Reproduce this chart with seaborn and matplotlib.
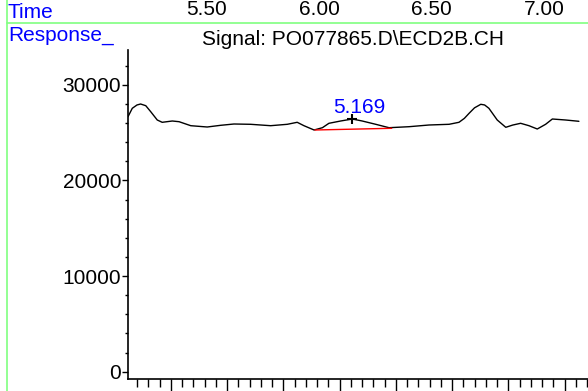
import matplotlib
matplotlib.use("Agg")
import matplotlib.pyplot as plt
import matplotlib.transforms as mtransforms
from matplotlib.ticker import MultipleLocator, NullFormatter
import seaborn as sns
import pandas as pd

# ---- data ----
time_min = [5.060, 5.079, 5.100, 5.116, 5.139, 5.161, 5.190, 5.212, 5.257, 5.287,
            5.339, 5.412, 5.472, 5.531, 5.605, 5.694, 5.768, 5.812, 5.842, 5.887,
            5.924, 5.953, 6.005, 6.057, 6.101, 6.161, 6.220, 6.309, 6.398, 6.487,
            6.531, 6.555, 6.576, 6.600, 6.628, 6.645, 6.664, 6.701, 6.739, 6.770,
            6.805, 6.842, 6.879, 6.916, 6.946, 7.005, 7.064]
response = [26673, 27552, 27900, 28001, 27824, 27196, 26328, 26087, 26223, 26150,
            25732, 25596, 25773, 25909, 25878, 25732, 25878, 26087, 25732, 25282,
            25522, 25983, 26223, 26432, 26223, 25878, 25522, 25627, 25805, 25878,
            26087, 26500, 27029, 27600, 27970, 27900, 27552, 26328, 25564, 25800,
            25983, 25732, 25386, 25878, 26432, 26328, 26192]

baseline_t = [5.891, 6.232]
baseline_y = [25282, 25460]

peak_t = 6.057
peak_y = 26432
peak_label = "5.169"

time_labels = [5.50, 6.00, 6.50, 7.00]
title = "Signal: PO077865.D\\ECD2B.CH"

df = pd.DataFrame({"time": time_min, "response": response})

sns.set_style("ticks")
plt.rcParams["font.family"] = ["Liberation Sans", "DejaVu Sans"]

W, H = 588, 391
fig = plt.figure(figsize=(W / 100, H / 100), dpi=100)
ax = fig.add_axes([128 / W, (H - 379) / H, (W - 128) / W, (379 - 50) / H])

sns.lineplot(data=df, x="time", y="response", ax=ax, color="black",
             linewidth=1.0)
ax.plot(baseline_t, baseline_y, color="red", linewidth=1.0)
ax.plot([peak_t], [peak_y], marker="+", color="black", markersize=7, mew=1.5)
ax.text(peak_t + 0.03, peak_y + 600, peak_label, color="blue", fontsize=15,
        ha="center", va="baseline")

ax.set_xlim(5.06, 5.06 + 460 / 225)
ax.set_ylim(-764, 33650)
ax.set_xlabel("")
ax.set_ylabel("")

for s in ["top", "right"]:
    ax.spines[s].set_visible(False)
for s in ["left", "bottom"]:
    ax.spines[s].set_color("black")
    ax.spines[s].set_linewidth(1.2)

ax.yaxis.set_major_locator(MultipleLocator(10000))
ax.yaxis.set_minor_locator(MultipleLocator(2000))
ax.xaxis.set_major_locator(MultipleLocator(0.25))
ax.xaxis.set_minor_locator(MultipleLocator(0.05))
ax.xaxis.set_major_formatter(NullFormatter())
ax.tick_params(axis="y", which="major", length=4, width=1, labelsize=15,
               colors="black", pad=1)
ax.tick_params(axis="y", which="minor", length=2, width=1, colors="black")
ax.tick_params(axis="x", which="major", length=11, width=1, colors="black")
ax.tick_params(axis="x", which="minor", length=6, width=1, colors="black")
ax.grid(False)

# top time labels, right-aligned to their time position
trans = mtransforms.blended_transform_factory(ax.transData, fig.transFigure)
for t in time_labels:
    fig.text(t, 1 - 15 / H, f"{t:.2f}", transform=trans, ha="right",
             va="baseline", fontsize=15, color="black")

fig.text(8 / W, 1 - 18 / H, "Time", color="blue", fontsize=15, va="baseline")
fig.text(8 / W, 1 - 41 / H, "Response_", color="blue", fontsize=15, va="baseline")
fig.text(353 / W, 1 - 45 / H, title, color="black", fontsize=15,
         ha="center", va="baseline")

# green frame lines
green = "#80ff80"
fig.add_artist(plt.Line2D([7 / W, 1], [1 - 23 / H, 1 - 23 / H], color=green,
                          linewidth=1.2, transform=fig.transFigure))
fig.add_artist(plt.Line2D([7 / W, 7 / W], [0, 1], color=green,
                          linewidth=1.2, transform=fig.transFigure))

fig.savefig("out.png", dpi=100)
